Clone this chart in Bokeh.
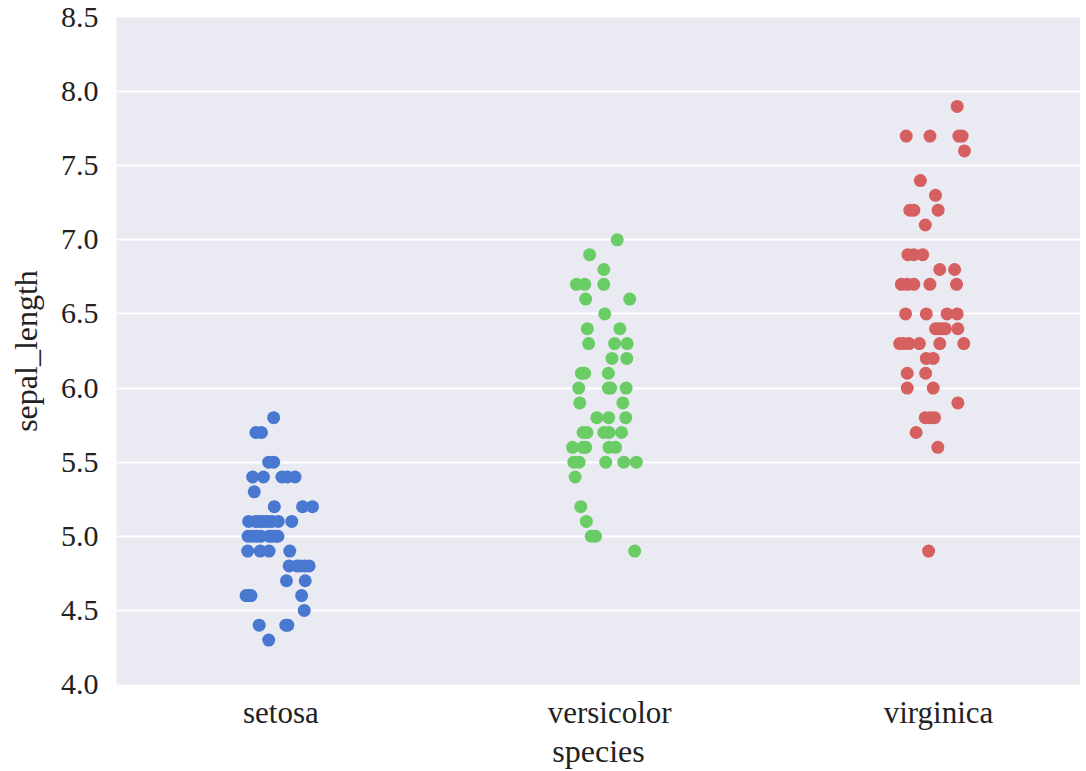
from bokeh.plotting import figure
from bokeh.models import FixedTicker, Range1d, ColumnDataSource
from bokeh.embed import file_html
from bokeh.resources import INLINE

species = ["setosa", "versicolor", "virginica"]
colors = ["#4878CF", "#6ACC65", "#D65F5F"]

setosa_vals = [5.8, 5.7, 5.7, 5.5, 5.5, 5.4, 5.4, 5.4, 5.4, 5.4, 5.3, 5.2, 5.2, 5.2,
               5.1, 5.1, 5.1, 5.1, 5.1, 5.1, 5.1, 5.1,
               5.0, 5.0, 5.0, 5.0, 5.0, 5.0, 5.0, 5.0,
               4.9, 4.9, 4.9, 4.9, 4.8, 4.8, 4.8, 4.8, 4.8, 4.7, 4.7,
               4.6, 4.6, 4.6, 4.6, 4.5, 4.4, 4.4, 4.4, 4.3]
setosa_jit = [-0.022, -0.076, -0.059, -0.037, -0.022, -0.086, -0.053, 0.003, 0.020, 0.043,
              -0.081, -0.020, 0.066, 0.096,
              -0.098, -0.076, -0.064, -0.052, -0.040, -0.027, -0.008, 0.033,
              -0.100, -0.088, -0.073, -0.061, -0.036, -0.027, -0.015, -0.009,
              -0.101, -0.063, -0.036, 0.027, 0.025, 0.049, 0.059, 0.073, 0.086, 0.017, 0.074,
              -0.106, -0.099, -0.091, 0.063, 0.071, -0.066, 0.015, 0.021, -0.037]

versicolor_vals = [7.0, 6.9, 6.8, 6.7, 6.7, 6.7, 6.6, 6.6, 6.5, 6.4, 6.4, 6.3, 6.3, 6.3,
                   6.2, 6.2, 6.1, 6.1, 6.1, 6.1, 6.0, 6.0, 6.0, 6.0, 5.9, 5.9,
                   5.8, 5.8, 5.8, 5.7, 5.7, 5.7, 5.7, 5.7, 5.6, 5.6, 5.6, 5.6, 5.6,
                   5.5, 5.5, 5.5, 5.5, 5.5, 5.4, 5.2, 5.1, 5.0, 5.0, 4.9]
versicolor_jit = [0.023, -0.061, -0.018, -0.101, -0.076, -0.018, -0.073, 0.061, -0.015,
                  -0.068, 0.031, -0.064, 0.015, 0.053, 0.007, 0.052,
                  -0.086, -0.082, -0.076, -0.004, -0.094, -0.004, 0.003, 0.050, -0.091, 0.040,
                  -0.039, -0.003, 0.049, -0.081, -0.069, -0.018, -0.002, 0.036,
                  -0.113, -0.081, -0.073, -0.002, 0.018,
                  -0.109, -0.093, -0.012, 0.043, 0.081, -0.105, -0.088, -0.071, -0.056, -0.043, 0.076]

virginica_vals = [7.9, 7.7, 7.7, 7.7, 7.7, 7.6, 7.4, 7.3, 7.2, 7.2, 7.2, 7.1,
                  6.9, 6.9, 6.9, 6.8, 6.8, 6.7, 6.7, 6.7, 6.7, 6.7,
                  6.5, 6.5, 6.5, 6.5, 6.4, 6.4, 6.4, 6.4, 6.4,
                  6.3, 6.3, 6.3, 6.3, 6.3, 6.3, 6.2, 6.2, 6.1, 6.1, 6.0, 6.0,
                  5.9, 5.8, 5.8, 5.8, 5.7, 5.6, 4.9]
virginica_jit = [0.057, -0.098, -0.026, 0.062, 0.072, 0.079, -0.055, -0.009, -0.087, -0.075, -0.001, -0.040,
                 -0.093, -0.075, -0.048, 0.004, 0.049, -0.113, -0.095, -0.075, -0.026, 0.055,
                 -0.100, -0.037, 0.026, 0.057, -0.009, 0.002, 0.013, 0.021, 0.059,
                 -0.118, -0.106, -0.090, -0.058, 0.004, 0.077, -0.037, -0.016, -0.095, -0.039, -0.095, -0.016,
                 0.059, -0.040, -0.024, -0.012, -0.068, -0.002, -0.030]

y_ticks = [4.0, 4.5, 5.0, 5.5, 6.0, 6.5, 7.0, 7.5, 8.0, 8.5]

FONT = "Liberation Serif"

p = figure(width=1080, height=771, output_backend="svg", toolbar_location=None,
           x_range=Range1d(-0.5, 2.432), y_range=Range1d(4.0, 8.5),
           min_border_left=116, min_border_right=0, min_border_top=17, min_border_bottom=80)

p.background_fill_color = "#EAEAF2"
p.border_fill_color = "white"
p.outline_line_color = None

groups = [setosa_vals, versicolor_vals, virginica_vals]
jits = [setosa_jit, versicolor_jit, virginica_jit]
for i, (vals, jit) in enumerate(zip(groups, jits)):
    src = ColumnDataSource(dict(x=[i + j for j in jit], y=vals))
    p.scatter("x", "y", source=src, size=13, fill_color=colors[i], line_color=colors[i],
              line_width=0)

p.xgrid.grid_line_color = None
p.ygrid.grid_line_color = "white"
p.ygrid.grid_line_width = 2
p.ygrid.ticker = FixedTicker(ticks=y_ticks)

p.yaxis.ticker = FixedTicker(ticks=y_ticks)
p.yaxis.major_label_overrides = {t: f"{t:.1f}" for t in y_ticks}
p.xaxis.ticker = FixedTicker(ticks=[0, 1, 2])
p.xaxis.major_label_overrides = {0: species[0], 1: species[1], 2: species[2]}

for ax in (p.xaxis, p.yaxis):
    ax.axis_line_color = None
    ax.major_tick_line_color = None
    ax.minor_tick_line_color = None
    ax.major_label_text_font = FONT
    ax.major_label_text_color = "#222222"
    ax.axis_label_text_font = FONT
    ax.axis_label_text_font_size = "32px"
    ax.axis_label_text_font_style = "normal"
    ax.axis_label_text_color = "#222222"

p.yaxis.major_label_text_font_size = "30px"
p.xaxis.major_label_text_font_size = "31px"
p.xaxis.axis_label = "species"
p.yaxis.axis_label = "sepal_length"
p.xaxis.major_label_standoff = 4
p.xaxis.axis_label_standoff = 0
p.yaxis.major_label_standoff = 12
p.yaxis.axis_label_standoff = 14

open("out.html", "w").write(file_html(p, INLINE))
